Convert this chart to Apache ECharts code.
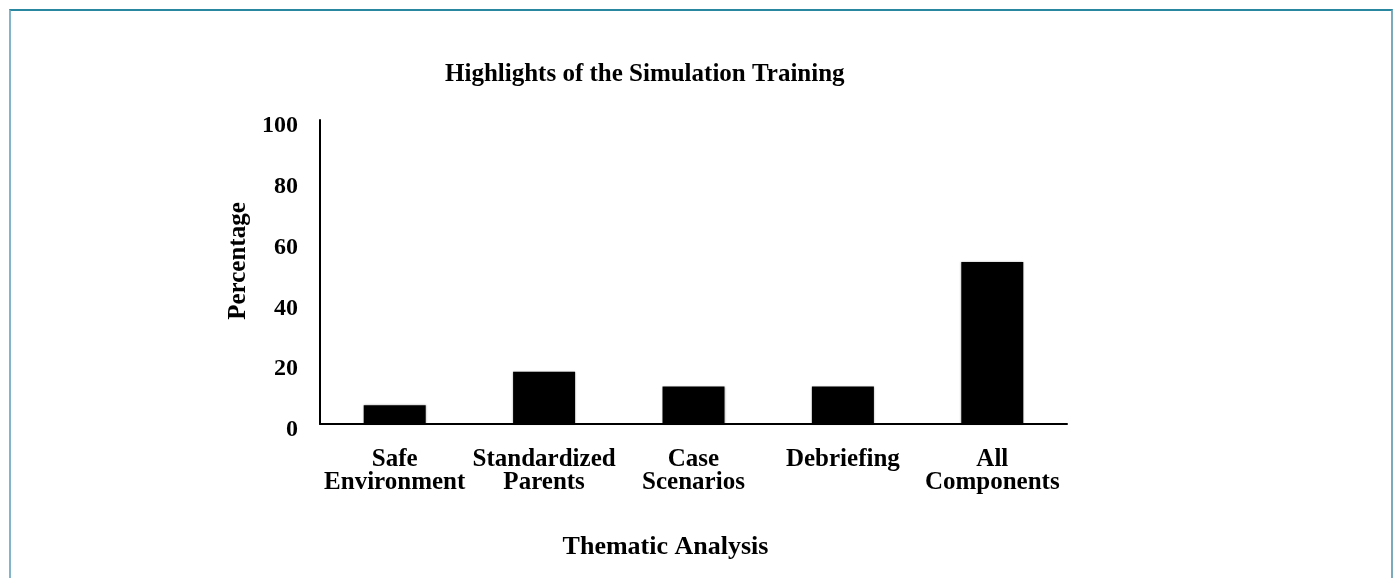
<!DOCTYPE html>
<html lang="en">
<head>
    <meta charset="UTF-8">
    <title>Highlights of the Simulation Training</title>
    <script src="https://cdn.jsdelivr.net/npm/echarts@6/dist/echarts.min.js"></script>
    <style>
        html, body { margin: 0; padding: 0; background: #fff; }
        #wrap { position: relative; width: 1394px; height: 578px; overflow: hidden; }
        #frame { position: absolute; left: 9px; top: 9px; width: 1380px; height: 600px;
                 border-top: 2px solid #2a87a0; border-left: 2px solid #82b5ca; border-right: 2px solid #7aaabb; }
        #chart { position: absolute; left: 0; top: 0; width: 1394px; height: 578px; }
    </style>
</head>
<body>
<div id="wrap">
    <div id="frame"></div>
    <div id="chart"></div>
</div>
<script>
    // data
    var categories = ['Safe\nEnvironment', 'Standardized\nParents', 'Case\nScenarios', 'Debriefing', 'All\nComponents'];
    var percentages = [6.2, 17.2, 12.3, 12.3, 53.3];
    var yTicks = [0, 20, 40, 60, 80, 100];

    var serif = '"Liberation Serif", "Times New Roman", serif';
    var myChart = echarts.init(document.getElementById('chart'), null, { renderer: 'canvas' });
    var option = {
        backgroundColor: 'transparent',
        animation: false,
        title: {
            text: 'Highlights of the Simulation Training',
            left: 440,
            top: 57,
            textStyle: { fontFamily: serif, fontWeight: 'bold', fontSize: 25, color: '#000' }
        },
        grid: { left: 320, right: 327, top: 120, bottom: 154, containLabel: false },
        xAxis: {
            type: 'category',
            data: categories,
            name: 'Thematic Analysis',
            nameLocation: 'middle',
            nameGap: 110,
            nameTextStyle: { fontFamily: serif, fontWeight: 'bold', fontSize: 26, color: '#000', padding: [0, 56, 0, 0] },
            axisLine: { lineStyle: { color: '#000', width: 2 } },
            axisTick: { show: false },
            axisLabel: {
                interval: 0, margin: 24,
                fontFamily: serif, fontWeight: 'bold', fontSize: 25, lineHeight: 23, color: '#000'
            }
        },
        yAxis: {
            type: 'value',
            min: yTicks[0],
            max: yTicks[yTicks.length - 1],
            interval: yTicks[1] - yTicks[0],
            name: 'Percentage',
            nameLocation: 'middle',
            nameGap: 66,
            nameRotate: 90,
            nameTextStyle: { fontFamily: serif, fontWeight: 'bold', fontSize: 25, color: '#000', padding: [0, 0, 0, 22] },
            axisLine: { show: true, lineStyle: { color: '#000', width: 2 } },
            axisTick: { show: false },
            splitLine: { show: false },
            axisLabel: {
                margin: 22, verticalAlign: 'top', lineHeight: 12,
                fontFamily: serif, fontWeight: 'bold', fontSize: 24, color: '#000'
            }
        },
        series: [
            {
                type: 'bar',
                data: percentages,
                barWidth: 62,
                itemStyle: { color: '#000', shadowColor: 'rgba(0,0,0,0.35)', shadowBlur: 2 }
            }
        ]
    };
    myChart.setOption(option);
</script>
</body>
</html>
